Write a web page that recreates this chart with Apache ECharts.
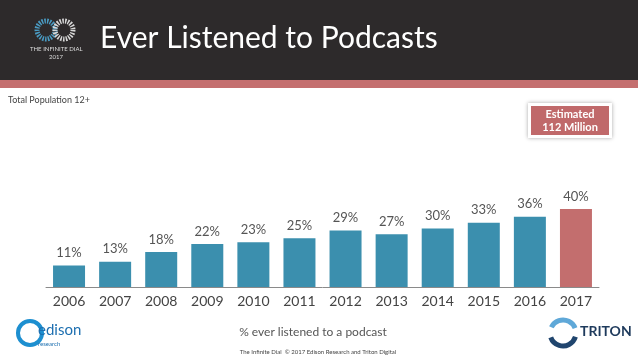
<!DOCTYPE html>
<html><head><meta charset="utf-8">
<script src="https://cdn.jsdelivr.net/npm/echarts@6/dist/echarts.min.js"></script>
<style>html,body{margin:0;padding:0;background:#fff}#c{width:638px;height:359px}</style>
</head><body><div id="c"></div>
<script>
const years = ['2006','2007','2008','2009','2010','2011','2012','2013','2014','2015','2016','2017'];
const values = [11,13,18,22,23,25,29,27,30,33,36,40];
const highlightYear = '2017';

const chart = echarts.init(document.getElementById('c'), null, {renderer:'canvas'});
const F = 'Lato, "Open Sans", sans-serif';
chart.setOption({
  animation:false,
  backgroundColor:'#fff',
  grid:{left:46, right:39, top:189.5, bottom:72, containLabel:false},
  xAxis:{type:'category', data:years,
    axisLine:{lineStyle:{color:'#8a8a8a', width:1}},
    axisTick:{show:false},
    axisLabel:{color:'#444', fontSize:14, fontFamily:F, margin:7}},
  yAxis:{type:'value', min:0, max:50, show:false, splitLine:{show:false}},
  series:[{type:'bar', barWidth:32,
    data: values.map((v,i)=>({value:v, itemStyle:{color: years[i]===highlightYear ? '#c36e6e' : '#3b8fae'}})),
    label:{show:true, position:'top', distance:6, formatter:'{c}%', color:'#555', fontSize:13, fontFamily:F}
  }],
  graphic:[
    {type:'rect', shape:{x:0,y:0,width:638,height:80}, style:{fill:'#2d2a2b'}},
    {type:'rect', shape:{x:0,y:80,width:638,height:8}, style:{fill:'#c46f6f'}},
    {type:'text', left:100, top:23, style:{text:'Ever Listened to Podcasts', fill:'#fff', font:'30px '+F}},
    {type:'circle', shape:{cx:46,cy:30,r:9}, style:{fill:'none', stroke:'#4a9cc4', lineWidth:5, lineDash:[1.5,1.2]}},
    {type:'circle', shape:{cx:64,cy:30,r:9}, style:{fill:'none', stroke:'#d8d8d8', lineWidth:5, lineDash:[1.5,1.2]}},
    {type:'text', left:30, top:46, style:{text:'THE INFINITE DIAL', fill:'#ddd', font:'6px '+F}},
    {type:'text', left:49, top:54, style:{text:'2017', fill:'#ddd', font:'6px '+F}},
    {type:'text', left:8, top:96, style:{text:'Total Population 12+', fill:'#444', font:'9px '+F}},
    {type:'rect', shape:{x:528,y:103,width:84,height:35}, style:{fill:'#fff', shadowBlur:4, shadowColor:'rgba(0,0,0,0.35)'}},
    {type:'rect', shape:{x:531,y:106,width:78,height:29}, style:{fill:'#c0696a'}},
    {type:'text', x:570, y:114, style:{text:'Estimated', fill:'#fff', font:'bold 11px '+F, align:'center', verticalAlign:'middle'}},
    {type:'text', x:570, y:127, style:{text:'112 Million', fill:'#fff', font:'bold 11px '+F, align:'center', verticalAlign:'middle'}},
    {type:'text', x:313, y:332, style:{text:'% ever listened to a podcast', fill:'#555', font:'12px '+F, align:'center', verticalAlign:'middle'}},
    {type:'text', x:318, y:352, style:{text:'The Infinite Dial  \u00a9 2017 Edison Research and Triton Digital', fill:'#444', font:'6px '+F, align:'center', verticalAlign:'middle'}},
    {type:'circle', shape:{cx:30,cy:333,r:12}, style:{fill:'none', stroke:'#1d8fd0', lineWidth:4}},
    {type:'text', left:38, top:323, style:{text:'edison', fill:'#1d6fb0', font:'15px '+F}},
    {type:'text', left:38, top:341, style:{text:'research', fill:'#1d6fb0', font:'6px '+F}},
    {type:'arc', shape:{cx:563,cy:333,r:13,startAngle:0.3,endAngle:2.8}, style:{fill:'none', stroke:'#20456e', lineWidth:5}},
    {type:'arc', shape:{cx:563,cy:333,r:13,startAngle:3.6,endAngle:5.9}, style:{fill:'none', stroke:'#5fa8d8', lineWidth:5}},
    {type:'text', left:580, top:324, style:{text:'TRITON', fill:'#1e3a5c', font:'bold 14px '+F}}
  ]
});
</script></body></html>
